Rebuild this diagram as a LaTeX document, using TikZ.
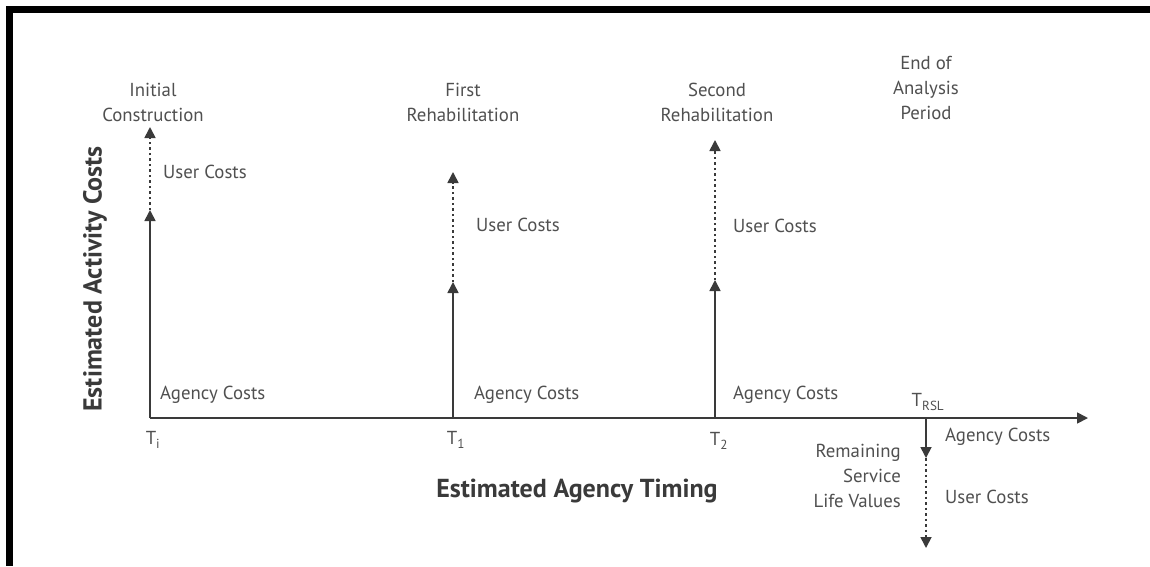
\documentclass[tikz,border=0pt]{standalone}
\usepackage{fontspec}
\setmainfont{PT Sans}
\usepackage{xcolor}
\usetikzlibrary{arrows.meta}
\definecolor{LCInk}{HTML}{3A3A3A}
\definecolor{LCText}{HTML}{505050}
\definecolor{LCFrame}{HTML}{000000}

\begin{document}
\begin{tikzpicture}[x=1pt,y=-1pt,
  lbl/.style={text=LCText,inner sep=0pt,font=\fontsize{18.8}{25}\selectfont},
  axlbl/.style={text=LCInk,inner sep=0pt,font=\fontsize{26}{30}\selectfont\bfseries},
  agency/.style={draw=LCInk,line width=1.7pt,-{Triangle[length=11pt,width=11pt]}},
  user/.style={draw=LCInk,line width=1.7pt,dash pattern=on 2.5pt off 3pt,-{Triangle[length=11pt,width=11pt]}}]
\path[use as bounding box] (0,0) rectangle (1150,566);
\fill[white] (0,0) rectangle (1150,566);
\fill[LCFrame] (6,6) rectangle (1150,13);
\fill[LCFrame] (6,6) rectangle (13,566);
% time points
\coordinate (Ti) at (150,418);
\coordinate (T1) at (453,418);
\coordinate (T2) at (715,418);
\coordinate (Trsl) at (926,418);
\coordinate (tEnd) at (1088,418);
% cost levels
\coordinate (ci) at (150,210);
\coordinate (ui) at (150,127);
\coordinate (c1) at (453,282);
\coordinate (u1) at (453,172);
\coordinate (c2) at (715,280);
\coordinate (u2) at (715,140);
\coordinate (rslA) at (926,458);
\coordinate (rslU) at (926,548);
\draw[draw=LCInk,line width=1.7pt,-{Triangle[length=11pt,width=11pt]}] (Ti) -- (tEnd);
\draw[agency] (Ti) -- (ci);
\draw[user] (ci) -- (ui);
\draw[agency] (T1) -- (c1);
\draw[user] (c1) -- (u1);
\draw[agency] (T2) -- (c2);
\draw[user] (c2) -- (u2);
\draw[agency] (Trsl) -- (rslA);
\draw[user] (rslA) -- (rslU);
% events
\node[lbl,align=center] (evInit) at (153,102) {Initial\\Construction};
\node[lbl,align=center] (evFirst) at (463,102) {First\\Rehabilitation};
\node[lbl,align=center] (evSecond) at (717,102) {Second\\Rehabilitation};
\node[lbl,align=center] (evEnd) at (926,88) {End of\\Analysis\\Period};
% costs
\node[lbl,anchor=west] (userI) at (163,172) {User Costs};
\node[lbl,anchor=west] (user1) at (476,225) {User Costs};
\node[lbl,anchor=west] (user2) at (733,226) {User Costs};
\node[lbl,anchor=west] (userR) at (945,497) {User Costs};
\node[lbl,anchor=west] (agI) at (160,395) {Agency Costs};
\node[lbl,anchor=west] (ag1) at (474,395) {Agency Costs};
\node[lbl,anchor=west] (ag2) at (733,395) {Agency Costs};
\node[lbl,anchor=west] (agR) at (945,437) {Agency Costs};
\node[lbl,align=right,anchor=east] (rsl) at (901,476) {Remaining\\Service\\Life Values};
% time labels
\node[lbl] (lTi) at (153,440) {T\textsubscript{i}};
\node[lbl] (lT1) at (456,440) {T\textsubscript{1}};
\node[lbl] (lT2) at (719,441) {T\textsubscript{2}};
\node[lbl] (lTrsl) at (928,402) {T\textsubscript{RSL}};
% axis titles
\node[axlbl] (xTitle) at (577,491) {Estimated Agency Timing};
\node[axlbl,rotate=90] (yTitle) at (95,279) {Estimated Activity Costs};
\end{tikzpicture}
\end{document}
